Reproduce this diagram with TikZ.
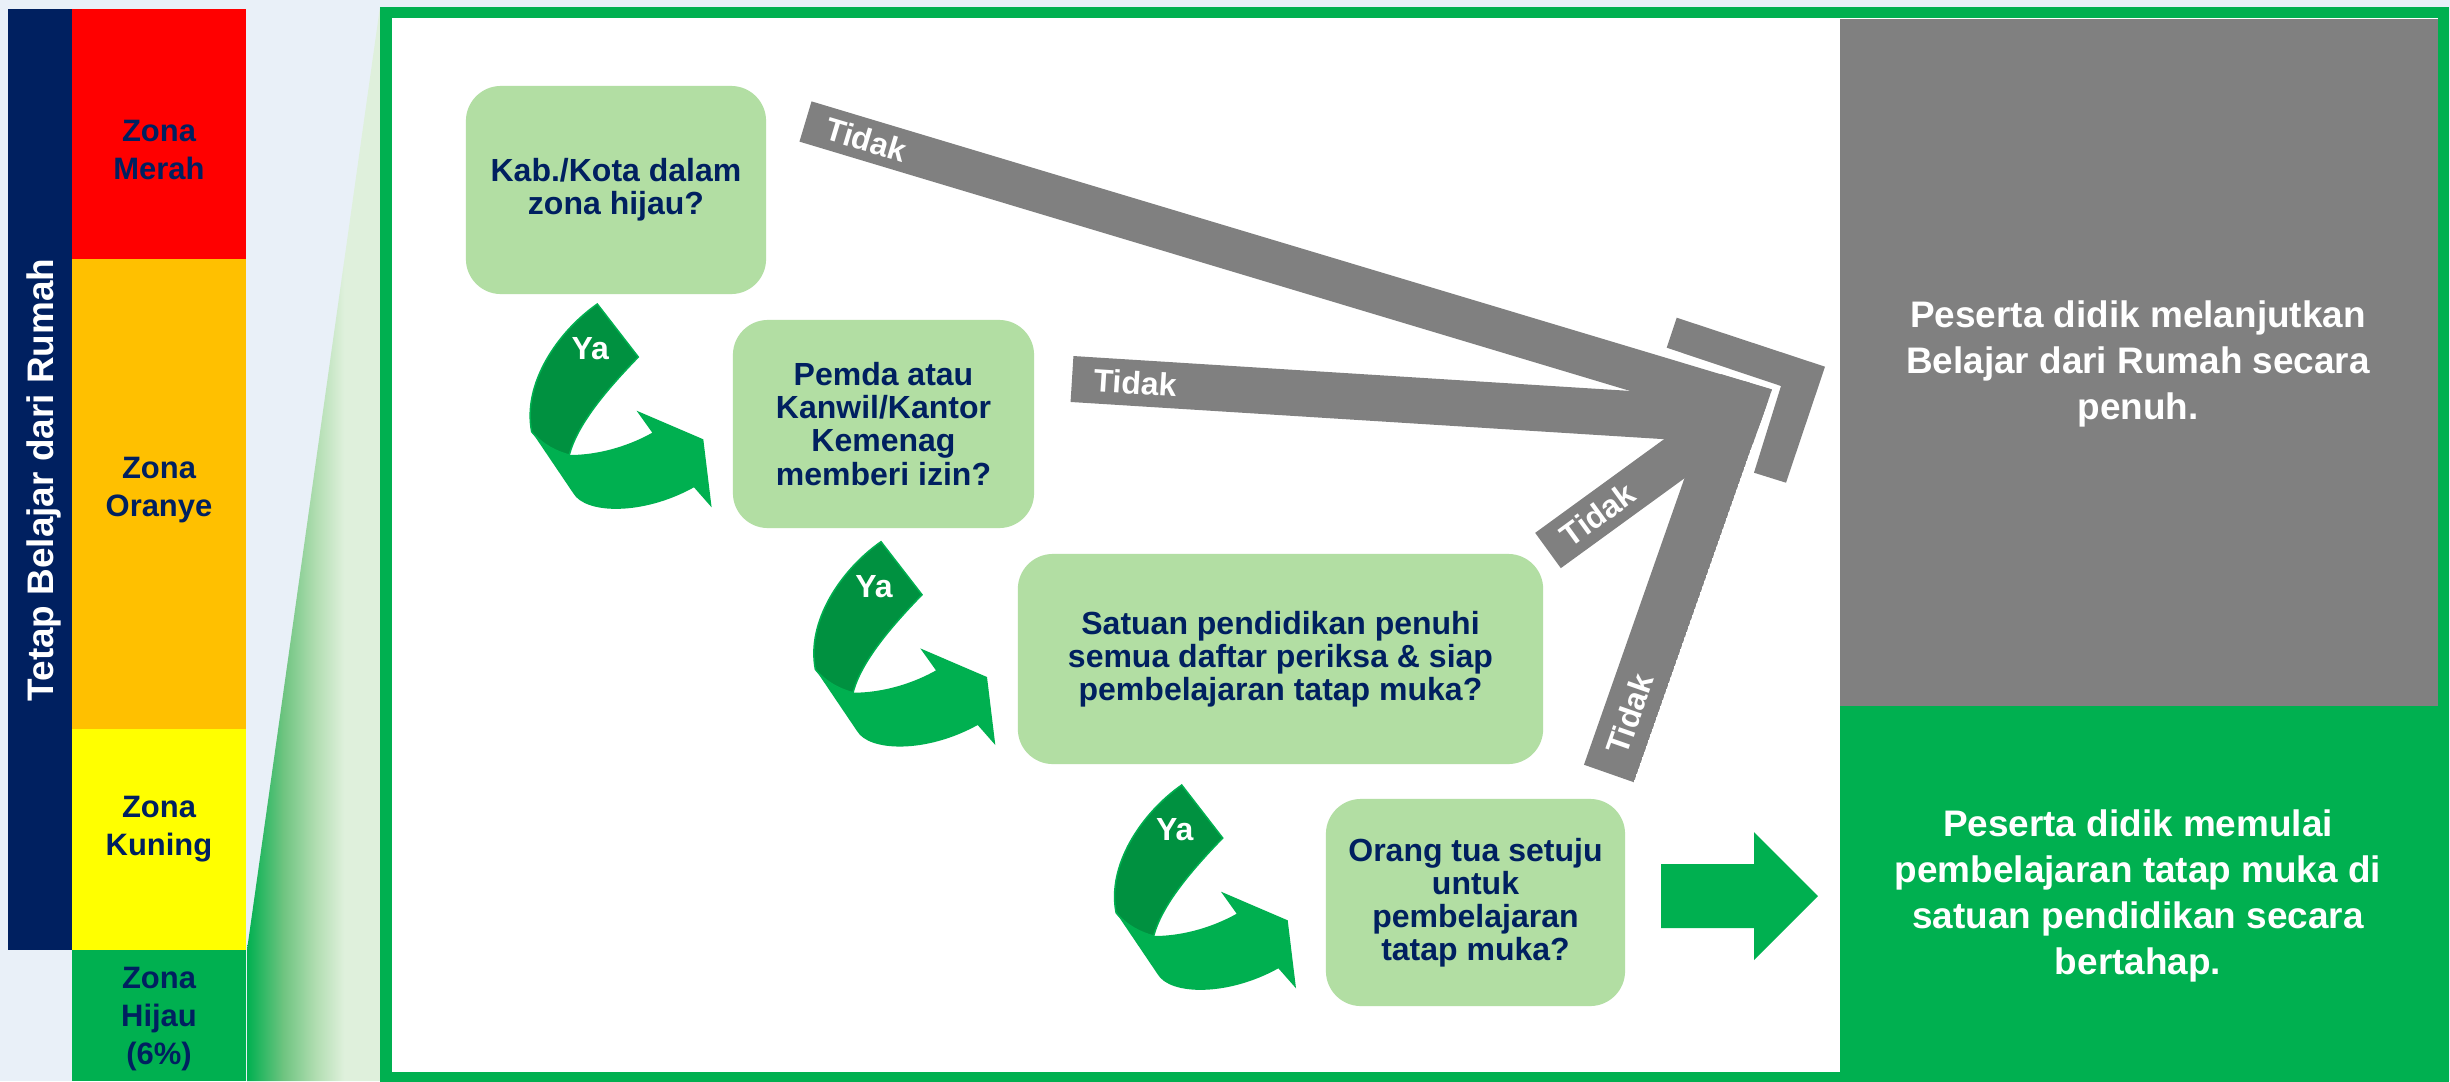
\documentclass[tikz,border=0pt]{standalone}
\usepackage{fontspec}
\setmainfont{Liberation Sans}
\usepackage{tikz}
\usetikzlibrary{positioning}
\definecolor{bgblue}{RGB}{233,240,248}
\definecolor{navy}{RGB}{0,32,96}
\definecolor{zred}{RGB}{255,0,0}
\definecolor{zorange}{RGB}{255,192,0}
\definecolor{zyellow}{RGB}{255,255,0}
\definecolor{zgreen}{RGB}{0,176,80}
\definecolor{zdark}{RGB}{0,145,64}
\definecolor{zpale}{RGB}{223,240,220}
\definecolor{fademid}{RGB}{110,196,128}
\definecolor{fadelight}{RGB}{178,222,178}
\definecolor{boxgreen}{RGB}{178,222,163}
\definecolor{bargrey}{RGB}{128,128,128}
\pgfdeclarehorizontalshading{zonefade}{100bp}{color(0bp)=(zgreen); color(25bp)=(zgreen); color(38bp)=(fademid); color(50bp)=(fadelight); color(60bp)=(zpale); color(100bp)=(zpale)}

\begin{document}
\begin{tikzpicture}[x=0.01cm, y=-0.01cm,
    zone/.style={text=navy, font=\bfseries\fontsize{8.8}{10.7}\selectfont, align=center},
    question/.style={fill=boxgreen, rounded corners=0.35cm, text=navy, align=center, inner sep=0pt,
        font=\bfseries\fontsize{9.1}{9.4}\selectfont},
    result/.style={text=white, align=center, font=\bfseries\fontsize{10.5}{13}\selectfont},
    tidak/.style={draw=bargrey, line cap=butt},
    tidaktext/.style={sloped, text=white, font=\bfseries\fontsize{9.1}{9.4}\selectfont},
    yatext/.style={text=white, font=\bfseries\fontsize{9.1}{9.4}\selectfont}]

        % Define page and background
        \useasboundingbox (0,0) rectangle (2450,1081);
        \fill[bgblue] (0,0) rectangle (2450,1081);

        % Define zone column
        \fill[navy] (8,9) rectangle (72,950);
        \node[rotate=90, text=white, font=\bfseries\fontsize{10.5}{12}\selectfont] (tetap) at (44,480) {Tetap Belajar dari Rumah};
        \foreach \top/\bot/\col/\ty/\text [count=\k] in
        {
            9/259/zred/150/Zona\\Merah,
            259/729/zorange/490/Zona\\Oranye,
            729/950/zyellow/829/Zona\\Kuning,
            950/1081/zgreen/1019/Zona\\Hijau\\(6\%)
        } {
        \fill[\col] (72,\top) rectangle (246,\bot);
        \node[zone] (zone\k) at (159,\ty) {\text};
        }

        % Define zoom wedge and frame
        \shade[shading=zonefade] (247,950) -- (380,7) -- (386,7) -- (386,1081) -- (247,1081) -- cycle;
        \fill[white] (386,12.5) rectangle (2443,1077);
        \draw[zgreen, line width=0.11cm] (386,12.5) rectangle (2443,1077);

        % Define outcome boxes
        \node[fill=bargrey, inner sep=0pt, minimum width=5.98cm, minimum height=6.87cm, anchor=north west] (stay) at (1839,18) {};
        \node[fill=zgreen, inner sep=0pt, minimum width=5.98cm, minimum height=3.67cm, anchor=north west] (start) at (1839,705) {};
        \node[result] (staytext) at (2138,364) {Peserta didik melanjutkan\\Belajar dari Rumah secara\\penuh.};
        \node[result] (starttext) at (2138,896) {Peserta didik memulai\\pembelajaran tatap muka di\\satuan pendidikan secara\\bertahap.};

        % Define questions
        \node[question, minimum width=3cm, minimum height=2.08cm] (q1) at (616,190) {Kab./Kota dalam\\zona hijau?};
        \node[question, minimum width=3.01cm, minimum height=2.08cm] (q2) at (883.5,424) {Pemda atau\\Kanwil/Kantor\\Kemenag\\memberi izin?};
        \node[question, minimum width=5.25cm, minimum height=2.1cm] (q3) at (1280.5,659) {Satuan pendidikan penuhi\\semua daftar periksa \& siap\\pembelajaran tatap muka?};
        \node[question, minimum width=2.99cm, minimum height=2.07cm] (q4) at (1475.5,902.5) {Orang tua setuju\\untuk\\pembelajaran\\tatap muka?};

        % Define Ya arrows
        \foreach \dx/\dy [count=\k] in {597.3/304, 881/541.7, 1181.7/785} {
        \begin{scope}[shift={(\dx,\dy)}]
            \fill[zgreen] (-65.6,127.7) -- (-24,189.3) .. controls (-12,210) and (45,212) .. (96.7,183.3)
                -- (114.3,203.3) -- (106,135.3) -- (39.3,106.7) -- (55,128.7)
                .. controls (35,140) and (5,151) .. (-28,151)
                .. controls (-40,148) and (-55,141) .. cycle;
            \filldraw[fill=zdark, draw=zgreen, line width=0.015cm] (0,0) -- (41,53)
                .. controls (10,85) and (-20,120) .. (-28,151)
                .. controls (-40,148) and (-55,141) .. (-65.6,127.7)
                .. controls (-75,80) and (-40,28) .. cycle;
            \node[yatext] (ya\k) at (-7,45) {Ya};
        \end{scope}
        }

        % Define Tidak bars
        \coordinate (t1) at (805.5,121.5);
        \coordinate (t2) at (1072,379);
        \coordinate (t3) at (1548,550.5);
        \coordinate (t4) at (1609,773.5);
        \coordinate (e1) at (1800,420);
        \coordinate (e2) at (1790,424);
        \coordinate (e3) at (1760,396.4);
        \coordinate (e4) at (1754,360);
        \begin{scope}
            \clip (600,37.7) -- (1772,389.4) -- (1496,1174) -- (600,1174) -- cycle;
            \draw[tidak, line width=0.42cm] (t1) -- node[tidaktext, pos=0.061] (no1) {Tidak} (e1);
            \draw[tidak, line width=0.46cm] (t2) -- node[tidaktext, pos=0.088] (no2) {Tidak} (e2);
            \draw[tidak, line width=0.436cm] (t3) -- node[tidaktext, pos=0.234] (no3) {Tidak} (e3);
            \draw[tidak, line width=0.53cm] (t4) -- node[tidaktext, pos=0.144] (no4) {Tidak} (e4);
        \end{scope}
        \fill[bargrey] (1676.7,317.7) -- (1825,366.7) -- (1786,482.7) -- (1754,472.7) -- (1781,386) -- (1666.7,347.7) -- cycle;

        % Define Ya arrow to the outcome
        \fill[zgreen] (1661,864) -- (1754,864) -- (1754,832) -- (1818,896) -- (1754,960) -- (1754,928) -- (1661,928) -- cycle;
    \end{tikzpicture}
\end{document}
